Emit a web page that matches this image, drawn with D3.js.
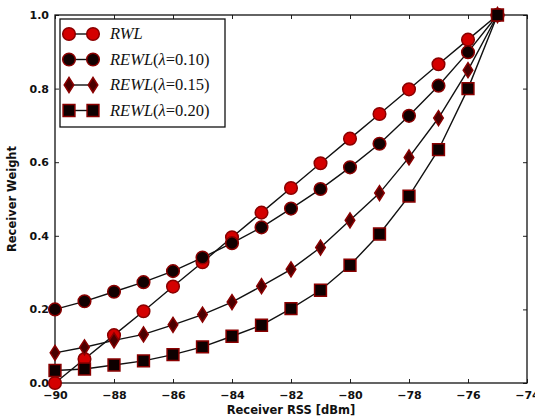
<!DOCTYPE html>
<html>
<head>
<meta charset="utf-8">
<script src="https://cdn.jsdelivr.net/npm/d3@7/dist/d3.min.js"></script>
<style>
  html, body { margin: 0; padding: 0; background: #fff; }
  svg { display: block; }
  .tick text { font-family: "DejaVu Sans", sans-serif; font-size: 11px; font-weight: bold; fill: #111; }
</style>
</head>
<body>
<svg id="chart" width="535" height="420"></svg>
<script>
// Received signal strength (dBm) at each sample
const rss = [-90, -89, -88, -87, -86, -85, -84, -83, -82, -81, -80, -79, -78, -77, -76, -75];

// Receiver weight per scheme
const rwl      = [0.000, 0.065, 0.130, 0.195, 0.262, 0.328, 0.396, 0.463, 0.530, 0.597, 0.664, 0.731, 0.798, 0.866, 0.933, 1.000];
const rewl010  = [0.200, 0.222, 0.248, 0.274, 0.304, 0.341, 0.380, 0.423, 0.474, 0.527, 0.586, 0.650, 0.726, 0.808, 0.899, 1.000];
const rewl015  = [0.082, 0.097, 0.116, 0.132, 0.158, 0.186, 0.220, 0.263, 0.309, 0.368, 0.442, 0.516, 0.613, 0.720, 0.850, 1.000];
const rewl020  = [0.034, 0.038, 0.049, 0.060, 0.077, 0.098, 0.127, 0.157, 0.202, 0.252, 0.320, 0.405, 0.508, 0.634, 0.800, 1.000];

const xTicks = [-90, -88, -86, -84, -82, -80, -78, -76, -74];
const yTicks = [0.0, 0.2, 0.4, 0.6, 0.8, 1.0];

const seriesList = [
  { name: "RWL",  lam: null,   values: rwl,     shape: "circle",  fill: "#d40000", edge: "#8a0000" },
  { name: "REWL", lam: "0.10", values: rewl010, shape: "circle",  fill: "#120000", edge: "#8a0000" },
  { name: "REWL", lam: "0.15", values: rewl015, shape: "diamond", fill: "#4a0000", edge: "#8a0000" },
  { name: "REWL", lam: "0.20", values: rewl020, shape: "square",  fill: "#0e0000", edge: "#8a0000" }
];

const svg = d3.select("#chart");
const margin = { left: 55, right: 8, top: 15, bottom: 37 };
const W = 535, H = 420;
const x = d3.scaleLinear().domain([-90, -74]).range([margin.left, W - margin.right]);
const y = d3.scaleLinear().domain([0, 1]).range([H - margin.bottom, margin.top]);

function markerPath(shape) {
  if (shape === "circle") return d3.symbol(d3.symbolCircle, 125)();
  if (shape === "square") return d3.symbol(d3.symbolSquare, 140)();
  // tall thin diamond
  return "M0,-7.5L4.8,0L0,7.5L-4.8,0Z";
}

// axes with inward ticks on all four sides
const fmtY = d3.format(".1f");
const fmtX = d => d3.format("d")(d).replace("-", "\u2212");

svg.append("g")
  .attr("transform", `translate(0,${y(0)})`)
  .call(d3.axisBottom(x).tickValues(xTicks).tickFormat(fmtX).tickSizeInner(-4).tickSizeOuter(0).tickPadding(8))
  .call(g => g.select(".domain").remove())
  .call(g => g.selectAll(".tick line").attr("stroke", "#222"));

svg.append("g")
  .attr("transform", `translate(0,${y(1)})`)
  .call(d3.axisTop(x).tickValues(xTicks).tickFormat("").tickSizeInner(-4).tickSizeOuter(0))
  .call(g => g.select(".domain").remove())
  .call(g => g.selectAll(".tick line").attr("stroke", "#222"));

svg.append("g")
  .attr("transform", `translate(${x(-90)},0)`)
  .call(d3.axisLeft(y).tickValues(yTicks).tickFormat(fmtY).tickSizeInner(-4).tickSizeOuter(0).tickPadding(6))
  .call(g => g.select(".domain").remove())
  .call(g => g.selectAll(".tick line").attr("stroke", "#222"));

svg.append("g")
  .attr("transform", `translate(${x(-74)},0)`)
  .call(d3.axisRight(y).tickValues(yTicks).tickFormat("").tickSizeInner(-4).tickSizeOuter(0))
  .call(g => g.select(".domain").remove())
  .call(g => g.selectAll(".tick line").attr("stroke", "#222"));

// plot frame
svg.append("rect")
  .attr("x", x(-90)).attr("y", y(1))
  .attr("width", x(-74) - x(-90)).attr("height", y(0) - y(1))
  .attr("fill", "none").attr("stroke", "#111").attr("stroke-width", 1.3);

// series lines and markers
const line = d3.line().x((d, i) => x(rss[i])).y(d => y(d));
seriesList.forEach(s => {
  svg.append("path")
    .datum(s.values)
    .attr("d", line)
    .attr("fill", "none")
    .attr("stroke", "#111")
    .attr("stroke-width", 1.4);
});
seriesList.forEach(s => {
  svg.append("g").selectAll("path")
    .data(s.values)
    .join("path")
    .attr("transform", (d, i) => `translate(${x(rss[i])},${y(d)})`)
    .attr("d", markerPath(s.shape))
    .attr("fill", s.fill)
    .attr("stroke", s.edge)
    .attr("stroke-width", 1.5);
});

// axis titles
svg.append("text")
  .attr("x", (x(-90) + x(-74)) / 2).attr("y", 414)
  .attr("text-anchor", "middle")
  .attr("font-family", "DejaVu Sans, sans-serif").attr("font-size", 11.5).attr("font-weight", "bold").attr("fill", "#111")
  .text("Receiver RSS [dBm]");

svg.append("text")
  .attr("transform", `translate(16,${(y(0) + y(1)) / 2}) rotate(-90)`)
  .attr("text-anchor", "middle")
  .attr("font-family", "DejaVu Sans, sans-serif").attr("font-size", 11.5).attr("font-weight", "bold").attr("fill", "#111")
  .text("Receiver Weight");

// legend
const lg = svg.append("g").attr("transform", "translate(60,19)");
lg.append("rect").attr("width", 165).attr("height", 108)
  .attr("fill", "#fff").attr("stroke", "#111").attr("stroke-width", 1.3);

seriesList.forEach((s, i) => {
  const cy = 15 + i * 25.5;
  const row = lg.append("g").attr("transform", `translate(0,${cy})`);
  row.append("line").attr("x1", 9).attr("x2", 33).attr("stroke", "#111").attr("stroke-width", 1.4);
  [9, 33].forEach(mx => {
    row.append("path").attr("transform", `translate(${mx},0)`)
      .attr("d", markerPath(s.shape))
      .attr("fill", s.fill).attr("stroke", s.edge).attr("stroke-width", 1.5);
  });
  const t = row.append("text").attr("x", 50).attr("y", 5)
    .attr("font-family", "Liberation Serif, DejaVu Serif, serif").attr("font-size", 16.5).attr("fill", "#111");
  t.append("tspan").attr("font-style", "italic").text(s.name);
  if (s.lam) {
    t.append("tspan").text("(");
    t.append("tspan").attr("font-style", "italic").text("\u03bb");
    t.append("tspan").text("=" + s.lam + ")");
  }
});
</script>
</body>
</html>
